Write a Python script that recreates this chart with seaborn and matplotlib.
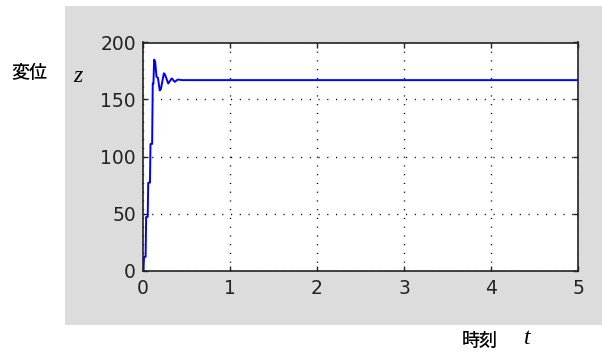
import matplotlib
matplotlib.use("Agg")
import matplotlib.pyplot as plt
import seaborn as sns
import pandas as pd
from matplotlib.patches import Rectangle

# Step response of the displacement z over time t
t_values = [0.0, 0.005, 0.012, 0.030, 0.036, 0.054, 0.060, 0.080, 0.086, 0.105,
            0.112, 0.120, 0.128, 0.140, 0.155, 0.172, 0.192, 0.205, 0.240, 0.252,
            0.290, 0.330, 0.365, 0.400, 0.450, 5.0]
z_values = [0.0, 0.0, 12.0, 12.0, 47.0, 47.0, 77.0, 77.0, 111.0, 111.0,
            164.0, 164.0, 185.0, 183.0, 170.0, 169.0, 158.0, 159.0, 173.0, 172.0,
            164.0, 168.5, 165.5, 167.5, 167.0, 167.0]

x_ticks = [0, 1, 2, 3, 4, 5]
y_ticks = [0, 50, 100, 150, 200]
y_label_text = "変位"
x_label_text = "時刻"

sns.set_style("white")
plt.rcParams["font.family"] = ["DejaVu Sans"]

W, H = 602, 353
fig = plt.figure(figsize=(W / 100, H / 100), dpi=100)
fig.patch.set_facecolor("white")

# grey figure panel behind the axes
fig.patches.append(Rectangle((65 / W, 1 - 325 / H), (W - 65) / W, (325 - 6) / H,
                             transform=fig.transFigure, facecolor="#dcdcdc",
                             edgecolor="none", zorder=-5))

ax = fig.add_axes([143 / W, 1 - 270.5 / H, (578 - 143) / W, (270.5 - 42.5) / H])
ax.set_zorder(2)
ax.set_facecolor("white")

df = pd.DataFrame({"t": t_values, "z": z_values})
sns.lineplot(data=df, x="t", y="z", ax=ax, color="#0000ff", linewidth=1.4,
             estimator=None, sort=False)

ax.set_xlim(0, 5)
ax.set_ylim(0, 200)
ax.set_xticks(x_ticks)
ax.set_yticks(y_ticks)
ax.set_xticklabels([str(v) for v in x_ticks])
ax.set_yticklabels([str(v) for v in y_ticks])
ax.set_xlabel("")
ax.set_ylabel("")

ax.grid(True, color="black", linestyle=(0, (0.8, 5.5)), linewidth=1.0)
for s in ax.spines.values():
    s.set_color("#222222")
    s.set_linewidth(1.2)
ax.tick_params(axis="both", which="major", direction="in", length=3.5, width=1.0,
               color="#222222", labelsize=13.5, labelcolor="#222222",
               top=True, right=True, bottom=True, left=True)
ax.tick_params(axis="x", pad=6)
ax.tick_params(axis="y", pad=5)

# axis titles
fig.text(11 / W, 1 - 73 / H, y_label_text, family=["Noto Sans CJK JP"],
         fontsize=13, weight="medium", va="center", ha="left", color="black")
fig.text(73 / W, 1 - 76 / H, "z", family=["Liberation Serif"], style="italic",
         fontsize=17, va="center", ha="left", color="black")
fig.text(462 / W, 1 - 341 / H, x_label_text, family=["Noto Sans CJK JP"],
         fontsize=13, weight="medium", va="center", ha="left", color="black")
fig.text(524 / W, 1 - 339 / H, "t", family=["Liberation Serif"], style="italic",
         fontsize=17, va="center", ha="left", color="black")

fig.savefig("out.png", dpi=100, facecolor="white")
